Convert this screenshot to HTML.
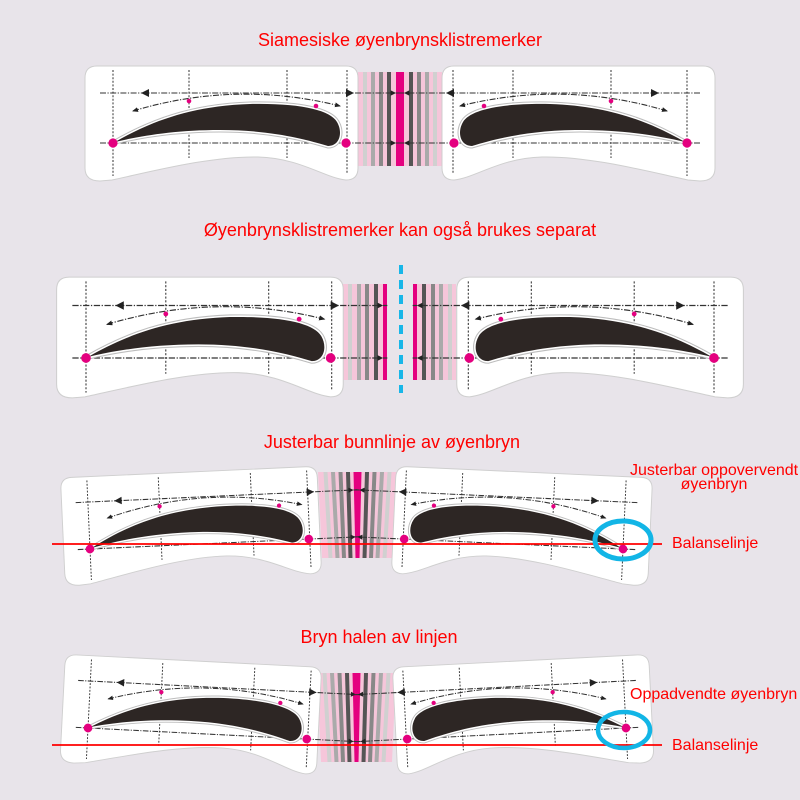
<!DOCTYPE html>
<html>
<head>
<meta charset="utf-8">
<style>
  html,body{margin:0;padding:0;background:#e8e4ea;}
  svg{display:block;}
  text{font-family:"Liberation Sans", Arial, sans-serif;fill:#ff0000;}
</style>
</head>
<body>
<svg width="800" height="800" viewBox="0 0 800 800" xmlns="http://www.w3.org/2000/svg" xmlns:xlink="http://www.w3.org/1999/xlink">
<defs>
  <marker id="ah" viewBox="0 0 6 6" refX="5" refY="3" markerWidth="6" markerHeight="6" markerUnits="userSpaceOnUse" orient="auto-start-reverse">
    <path d="M0,0.6 L6,3 L0,5.4 Z" fill="#222"/>
  </marker>

  <!-- left card in panel-1 coordinates -->
  <g id="L">
    <path d="M97,66 H346 Q358,66 358,78 V168 Q358,180 346,180 C325,178 300,158 258,157 C210,156 150,172 112,180 L100,181 Q85,181 85,168 V78 Q85,66 97,66 Z" fill="#ffffff" stroke="#cfcfcf" stroke-width="1"/>
    <g stroke="#333" stroke-width="1" stroke-dasharray="2 1.6" fill="none">
      <line x1="113" y1="70" x2="113" y2="176"/>
      <line x1="189" y1="70" x2="189" y2="158"/>
      <line x1="287" y1="70" x2="287" y2="158"/>
      <line x1="347" y1="70" x2="347" y2="174"/>
    </g>
    <g stroke="#333" stroke-width="1.1" stroke-dasharray="6 1.5 1.2 1.5" fill="none">
      <line x1="100" y1="93" x2="400" y2="93"/>
      <line x1="100" y1="143" x2="400" y2="143"/>
      <path d="M133,111 Q236,80 340,106" marker-start="url(#ah)" marker-end="url(#ah)"/>
    </g>
    <g fill="#222">
      <polygon points="141,93 149,89 149,97"/>
      <polygon points="354,93 346,89 346,97"/>
      <polygon points="396,93 390.5,90.3 390.5,95.7"/>
      <polygon points="396,143 390.5,140.3 390.5,145.7"/>
    </g>
    <path d="M115,142 C150,122 190,106 250,104 C300,103 330,110 337,122 C343,132 340,146 328,146 C305,139 270,130 220,130 C175,130 140,136 115,142 Z" fill="none" stroke="#bdbdbd" stroke-width="5" stroke-linejoin="round"/>
    <path d="M115,142 C150,122 190,106 250,104 C300,103 330,110 337,122 C343,132 340,146 328,146 C305,139 270,130 220,130 C175,130 140,136 115,142 Z" fill="none" stroke="#ffffff" stroke-width="3" stroke-linejoin="round"/>
    <path d="M115,142 C150,122 190,106 250,104 C300,103 330,110 337,122 C343,132 340,146 328,146 C305,139 270,130 220,130 C175,130 140,136 115,142 Z" fill="#2d2624"/>
    <g fill="#e4007f">
      <circle cx="189" cy="101" r="2.3"/>
      <circle cx="316" cy="106" r="2.3"/>
      <circle cx="113" cy="143" r="4.6"/>
      <circle cx="346" cy="143" r="4.6"/>
    </g>
  </g>

  <g id="R">
    <use xlink:href="#L" href="#L" transform="translate(800,0) scale(-1,1)"/>
  </g>

  <!-- fan strip for panels 3/4 -->
  <g id="fan">
    <polygon points="318,472 397,472 393,558 322,558" fill="#f6c6da"/>
    <polygon points="323.5,472 327.5,472 332.5,558 328.5,558" fill="#d0d0d0"/>
    <polygon points="331,472 335,472 339.5,558 335.5,558" fill="#aaaaaa"/>
    <polygon points="338.5,472 342.5,472 346,558 342,558" fill="#888888"/>
    <polygon points="346,472 350,472 352.5,558 348.5,558" fill="#555555"/>
    <polygon points="353.5,472 361.5,472 359.5,558 355.5,558" fill="#e4007f"/>
    <polygon points="365,472 369,472 366.5,558 362.5,558" fill="#555555"/>
    <polygon points="372.5,472 376.5,472 373,558 369,558" fill="#888888"/>
    <polygon points="380,472 384,472 379.5,558 375.5,558" fill="#aaaaaa"/>
    <polygon points="387.5,472 391.5,472 386.5,558 382.5,558" fill="#d0d0d0"/>
  </g>
</defs>

<rect x="0" y="0" width="800" height="800" fill="#e8e4ea"/>

<!-- Titles -->
<text x="400" y="46" font-size="18" text-anchor="middle">Siamesiske øyenbrynsklistremerker</text>
<text x="400" y="236" font-size="18" text-anchor="middle">Øyenbrynsklistremerker kan også brukes separat</text>
<text x="392" y="448" font-size="18" text-anchor="middle">Justerbar bunnlinje av øyenbryn</text>
<text x="379" y="643" font-size="18" text-anchor="middle">Bryn halen av linjen</text>

<!-- Panel 1 -->
<rect x="358" y="72" width="84" height="94" fill="#f6c6da"/>
<rect x="363" y="72" width="4" height="94" fill="#d0d0d0"/>
<rect x="371" y="72" width="4" height="94" fill="#aaaaaa"/>
<rect x="379" y="72" width="4" height="94" fill="#888888"/>
<rect x="387" y="72" width="4" height="94" fill="#555555"/>
<rect x="396" y="72" width="8" height="94" fill="#e4007f"/>
<rect x="409" y="72" width="4" height="94" fill="#555555"/>
<rect x="417" y="72" width="4" height="94" fill="#888888"/>
<rect x="425" y="72" width="4" height="94" fill="#aaaaaa"/>
<rect x="433" y="72" width="4" height="94" fill="#d0d0d0"/>
<use xlink:href="#L" href="#L"/>
<use xlink:href="#R" href="#R"/>

<!-- Panel 2 -->
<rect x="343" y="284" width="44" height="96" fill="#f6c6da"/>
<rect x="348" y="284" width="4" height="96" fill="#d0d0d0"/>
<rect x="357" y="284" width="4" height="96" fill="#aaaaaa"/>
<rect x="365" y="284" width="4" height="96" fill="#888888"/>
<rect x="374" y="284" width="4" height="96" fill="#555555"/>
<rect x="383" y="284" width="4" height="96" fill="#e4007f"/>
<rect x="413" y="284" width="43" height="96" fill="#f6c6da"/>
<rect x="413" y="284" width="4" height="96" fill="#e4007f"/>
<rect x="422" y="284" width="4" height="96" fill="#555555"/>
<rect x="431" y="284" width="4" height="96" fill="#888888"/>
<rect x="439" y="284" width="4" height="96" fill="#aaaaaa"/>
<rect x="448" y="284" width="4" height="96" fill="#d0d0d0"/>
<use xlink:href="#L" href="#L" transform="translate(86,358) scale(1.05) translate(-113,-143)"/>
<use xlink:href="#R" href="#R" transform="translate(714,358) scale(1.05) translate(-687,-143)"/>
<line x1="401" y1="265" x2="401" y2="393" stroke="#18b6e8" stroke-width="4" stroke-dasharray="9 6"/>

<!-- Panel 3 -->
<use xlink:href="#fan" href="#fan"/>
<use xlink:href="#L" href="#L" transform="translate(90,549) rotate(-2.6) scale(0.94) translate(-113,-143)"/>
<use xlink:href="#R" href="#R" transform="translate(623,549) rotate(2.6) scale(0.94) translate(-687,-143)"/>
<line x1="52" y1="544" x2="662" y2="544" stroke="#ff0000" stroke-width="1.8"/>
<ellipse cx="623" cy="540" rx="28" ry="19" fill="none" stroke="#12b5e6" stroke-width="5"/>
<text x="630" y="475" font-size="16">Justerbar oppovervendt</text>
<text x="714" y="489" font-size="16" text-anchor="middle">øyenbryn</text>
<text x="672" y="548" font-size="16">Balanselinje</text>

<!-- Panel 4 -->
<use xlink:href="#fan" href="#fan" transform="translate(-1,673) scale(1,1.035) translate(0,-472)"/>
<use xlink:href="#L" href="#L" transform="translate(88,728) rotate(2.9) scale(0.94) translate(-113,-143)"/>
<use xlink:href="#R" href="#R" transform="translate(626,728) rotate(-2.9) scale(0.94) translate(-687,-143)"/>
<line x1="52" y1="745" x2="662" y2="745" stroke="#ff0000" stroke-width="1.8"/>
<ellipse cx="624" cy="730" rx="26" ry="18" fill="none" stroke="#12b5e6" stroke-width="4.5"/>
<text x="630" y="699" font-size="16">Oppadvendte øyenbryn</text>
<text x="672" y="750" font-size="16">Balanselinje</text>
</svg>
</body>
</html>
